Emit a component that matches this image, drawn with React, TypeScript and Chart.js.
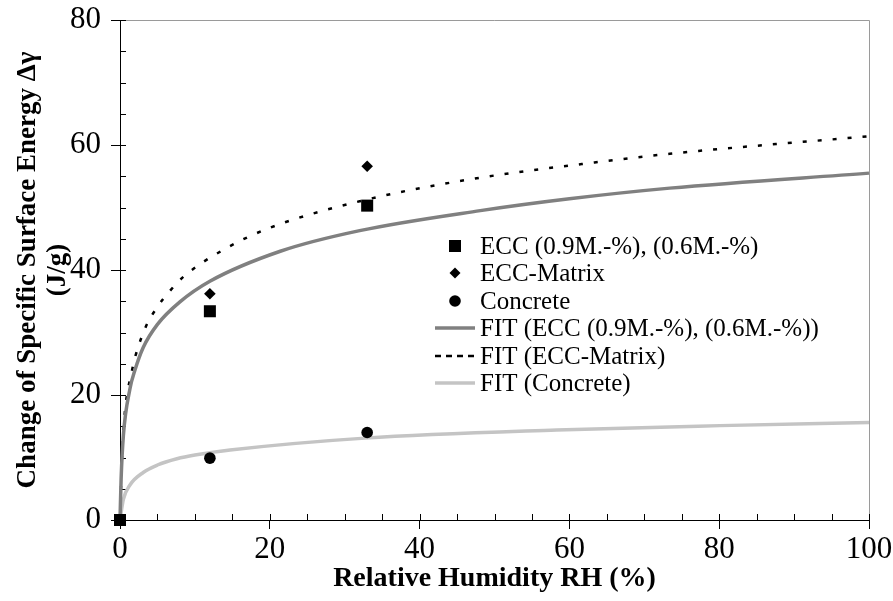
import React, { useEffect, useRef } from 'react';
import { Chart, registerables } from 'chart.js';

Chart.register(...registerables);

// ---------- data ----------
const eccX = [0, 12, 33];
const eccY = [0, 33.4, 50.3];
const matrixX = [0, 12, 33];
const matrixY = [0, 36.2, 56.6];
const concreteX = [0, 12, 33];
const concreteY = [0, 9.9, 14.0];

const fitEccX = [0, 0.15, 0.45, 1.33, 2, 3.1, 5, 8, 12, 21.4, 32, 48.1, 60, 73.4, 100];
const fitEccY = [0, 6.6, 13.5, 21.0, 24.0, 27.6, 31.3, 34.9, 38.2, 43.0, 46.3, 49.5, 51.4, 53.1, 55.5];

const fitMatrixX = [0, 0.22, 0.53, 1.56, 3.34, 5, 6.7, 8.45, 13.9, 19.9, 32, 46.7, 64, 73.4, 100];
const fitMatrixY = [0, 8.5, 15.6, 23.7, 30.6, 34.1, 36.7, 38.9, 43.3, 46.7, 51.0, 54.5, 57.3, 58.6, 61.4];

const fitConcreteX = [0, 0.45, 1.33, 3.1, 5, 7.6, 10, 14.7, 32.7, 58.3, 80.1, 100];
const fitConcreteY = [0, 3.3, 5.6, 7.6, 8.8, 9.8, 10.4, 11.2, 13.1, 14.4, 15.1, 15.6];

const seriesLabels = [
  'ECC (0.9M.-%), (0.6M.-%)',
  'ECC-Matrix',
  'Concrete',
  'FIT (ECC (0.9M.-%), (0.6M.-%))',
  'FIT (ECC-Matrix)',
  'FIT (Concrete)',
];

const xTickLabels = ['0', '20', '40', '60', '80', '100'];
const yTickLabels = ['0', '20', '40', '60', '80'];
const xTitle = 'Relative Humidity RH (%)';
const yTitleLines = ['Change of Specific Surface Energy Δγ', '(J/g)'];

// ---------- styling ----------
const SERIF = '"Liberation Serif", "Times New Roman", serif';

const pts = (xs: number[], ys: number[]) => xs.map((x, i) => ({ x, y: ys[i] }));

const decorPlugin = {
  id: 'decor',
  beforeDatasetsDraw(chart: any) {
    const { ctx, chartArea, scales } = chart;
    const xs = scales.x;
    const ys = scales.y;
    ctx.save();
    // gray top / right frame
    ctx.strokeStyle = '#9a9a9a';
    ctx.lineWidth = 1;
    ctx.beginPath();
    ctx.moveTo(chartArea.left, chartArea.top + 0.5);
    ctx.lineTo(chartArea.right + 0.5, chartArea.top + 0.5);
    ctx.lineTo(chartArea.right + 0.5, chartArea.bottom);
    ctx.stroke();
    // inner ticks (minor + inner half of major)
    ctx.strokeStyle = '#000';
    ctx.beginPath();
    for (let v = 5; v <= 100; v += 5) {
      const px = Math.round(xs.getPixelForValue(v)) + 0.5;
      ctx.moveTo(px, chartArea.bottom);
      ctx.lineTo(px, chartArea.bottom - 6);
    }
    for (let v = 5; v <= 80; v += 5) {
      const py = Math.round(ys.getPixelForValue(v)) + 0.5;
      ctx.moveTo(chartArea.left, py);
      ctx.lineTo(chartArea.left + 6, py);
    }
    ctx.stroke();
    ctx.restore();
  },
  afterDraw(chart: any) {
    const { ctx, chartArea } = chart;
    ctx.save();
    ctx.fillStyle = '#000';
    ctx.textAlign = 'center';
    ctx.textBaseline = 'middle';
    // x title
    ctx.font = `bold 28px ${SERIF}`;
    ctx.fillText(xTitle, (chartArea.left + chartArea.right) / 2, 579);
    // y title
    ctx.font = `bold 27px ${SERIF}`;
    ctx.save();
    ctx.translate(28, (chartArea.top + chartArea.bottom) / 2);
    ctx.rotate(-Math.PI / 2);
    ctx.fillText(yTitleLines[0], 0, 0);
    ctx.fillText(yTitleLines[1], 0, 30);
    ctx.restore();

    // legend
    const ds = chart.data.datasets;
    const x0 = 455;
    const textX = 480;
    const rowY = [246, 273, 301, 328, 356, 383];
    ctx.font = `25px ${SERIF}`;
    ctx.textAlign = 'left';
    ds.forEach((d: any, i: number) => {
      const y = rowY[i];
      ctx.save();
      if (d.showLine) {
        ctx.strokeStyle = d.borderColor;
        ctx.lineWidth = d.borderWidth;
        ctx.setLineDash(d.legendDash || []);
        ctx.beginPath();
        ctx.moveTo(x0 - 20, y);
        ctx.lineTo(x0 + 20, y);
        ctx.stroke();
      } else {
        ctx.fillStyle = '#000';
        ctx.beginPath();
        if (d.pointStyle === 'rect') {
          ctx.rect(x0 - 6, y - 6, 12, 12);
        } else if (d.pointStyle === 'rectRot') {
          const r = 5.5;
          ctx.moveTo(x0 - r, y);
          ctx.lineTo(x0, y - r);
          ctx.lineTo(x0 + r, y);
          ctx.lineTo(x0, y + r);
          ctx.closePath();
        } else {
          ctx.arc(x0, y, 5.8, 0, Math.PI * 2);
        }
        ctx.fill();
      }
      ctx.restore();
      ctx.fillStyle = '#000';
      ctx.fillText(d.label, textX, y + 1);
    });
    ctx.restore();
  },
};

export default function App() {
  const ref = useRef<HTMLCanvasElement | null>(null);

  useEffect(() => {
    const canvas = ref.current;
    if (!canvas) return;

    const markerBase = {
      showLine: false,
      backgroundColor: '#000',
      borderColor: '#000',
      borderWidth: 0,
      clip: false as any,
      order: 0,
    };
    const lineBase = {
      showLine: true,
      pointRadius: 0,
      pointHoverRadius: 0,
      cubicInterpolationMode: 'monotone' as const,
      fill: false,
      clip: false as any,
      order: 1,
    };

    const tickFont = { family: SERIF, size: 31 };

    const chart = new Chart(canvas, {
      type: 'scatter',
      data: {
        datasets: [
          { ...markerBase, label: seriesLabels[0], data: pts(eccX, eccY), pointStyle: 'rect', pointRadius: 8.5 },
          { ...markerBase, label: seriesLabels[1], data: pts(matrixX, matrixY), pointStyle: 'rectRot', pointRadius: 5.8 },
          { ...markerBase, label: seriesLabels[2], data: pts(concreteX, concreteY), pointStyle: 'circle', pointRadius: 5.8 },
          { ...lineBase, label: seriesLabels[3], data: pts(fitEccX, fitEccY), borderColor: '#808080', borderWidth: 3.5 },
          { ...lineBase, label: seriesLabels[4], data: pts(fitMatrixX, fitMatrixY), borderColor: '#000', borderWidth: 2.5, borderDash: [4, 11], legendDash: [6, 5] } as any,
          { ...lineBase, label: seriesLabels[5], data: pts(fitConcreteX, fitConcreteY), borderColor: '#c4c4c4', borderWidth: 3.5 },
        ],
      },
      options: {
        animation: false,
        responsive: false,
        maintainAspectRatio: false,
        devicePixelRatio: 1,
        layout: { padding: { top: 20, right: 24, left: 0, bottom: 0 } },
        plugins: {
          legend: { display: false },
          tooltip: { enabled: false },
        },
        events: [],
        scales: {
          x: {
            type: 'linear',
            min: 0,
            max: 100,
            afterFit: (s: any) => {
              s.height = 81;
              s.paddingLeft = 0;
              s.paddingRight = 0;
              s.paddingTop = 0;
              s.paddingBottom = 0;
            },
            ticks: {
              stepSize: 20,
              color: '#000',
              font: tickFont,
              padding: 2,
              maxRotation: 0,
              callback: (v: any) => {
                const i = Math.round(Number(v) / 20);
                return xTickLabels[i] ?? '';
              },
            },
            grid: { display: true, drawOnChartArea: false, drawTicks: true, tickLength: 9, tickColor: '#000', tickWidth: 1 },
            border: { display: true, color: '#000', width: 1 },
            title: { display: false },
          },
          y: {
            type: 'linear',
            min: 0,
            max: 80,
            afterFit: (s: any) => {
              s.width = 120;
              s.paddingLeft = 0;
              s.paddingRight = 0;
              s.paddingTop = 0;
              s.paddingBottom = 0;
            },
            ticks: {
              stepSize: 20,
              color: '#000',
              font: tickFont,
              padding: 10,
              callback: (v: any) => {
                const i = Math.round(Number(v) / 20);
                return yTickLabels[i] ?? '';
              },
            },
            grid: { display: true, drawOnChartArea: false, drawTicks: true, tickLength: 9, tickColor: '#000', tickWidth: 1 },
            border: { display: true, color: '#000', width: 1 },
            title: { display: false },
          },
        },
      },
      plugins: [decorPlugin],
    } as any);

    return () => chart.destroy();
  }, []);

  return (
    <div style={{ position: 'fixed', left: 0, top: 0, width: 893, height: 601, background: '#fff' }}>
      <canvas ref={ref} width={893} height={601} style={{ width: 893, height: 601, display: 'block' }} />
    </div>
  );
}
